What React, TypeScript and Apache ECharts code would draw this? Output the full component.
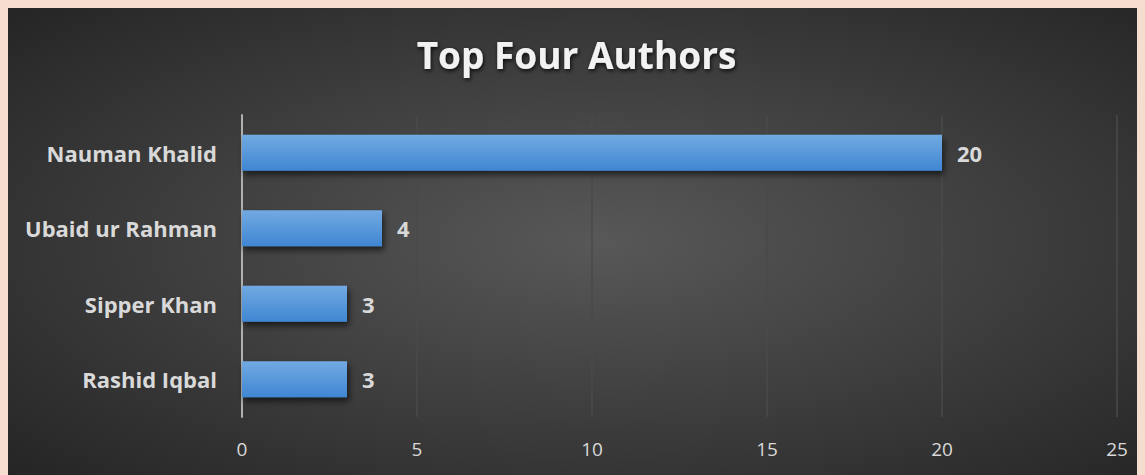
import React, { useEffect, useRef } from "react";
import * as echarts from "echarts";

const categories = ["Rashid Iqbal", "Sipper Khan", "Ubaid ur Rahman", "Nauman Khalid"];
const values = [3, 3, 4, 20];
const xTicks = [0, 5, 10, 15, 20, 25];
const titleText = "Top Four Authors";

export default function App() {
  const ref = useRef<HTMLDivElement>(null);
  useEffect(() => {
    document.body.style.background = "#f5ddd0";
    const chart = echarts.init(ref.current!, null, { renderer: "svg" });
    chart.setOption({
      animation: false,
      backgroundColor: {
        type: "radial",
        x: 0.52,
        y: 0.5,
        r: 0.72,
        colorStops: [
          { offset: 0, color: "#585858" },
          { offset: 1, color: "#252525" },
        ],
      },
      title: {
        text: titleText,
        left: "center",
        top: 23,
        textStyle: {
          color: "#f2f2f2",
          fontSize: 37,
          fontWeight: "bold",
          fontFamily: "Open Sans",
          textShadowColor: "rgba(0,0,0,0.8)",
          textShadowBlur: 4,
          textShadowOffsetX: 1,
          textShadowOffsetY: 2,
        },
      },
      grid: { left: 234, right: 28, top: 107, bottom: 58, containLabel: false },
      xAxis: {
        type: "value",
        min: 0,
        max: 25,
        interval: 5,
        axisLine: { show: false },
        axisTick: { show: false },
        splitLine: { lineStyle: { color: "#4a4a4a", width: 1.5 } },
        axisLabel: {
          color: "#d9d9d9",
          fontSize: 19,
          fontFamily: "Open Sans",
          margin: 22,
          formatter: (v: number) => (xTicks.includes(v) ? String(v) : ""),
        },
      },
      yAxis: {
        type: "category",
        data: categories,
        axisLine: { show: true, lineStyle: { color: "#b0b0b0", width: 2 } },
        axisTick: { show: false },
        axisLabel: {
          color: "#d9d9d9",
          fontSize: 22,
          fontWeight: "bold",
          fontFamily: "Open Sans",
          margin: 25,
        },
      },
      series: [
        {
          type: "bar",
          data: values,
          barWidth: "48%",
          itemStyle: {
            color: {
              type: "linear",
              x: 0,
              y: 0,
              x2: 0,
              y2: 1,
              colorStops: [
                { offset: 0, color: "#72aae2" },
                { offset: 1, color: "#3f86d2" },
              ],
            },
            shadowColor: "rgba(0,0,0,0.6)",
            shadowBlur: 6,
            shadowOffsetX: 2,
            shadowOffsetY: 4,
          },
          label: {
            show: true,
            position: "right",
            distance: 15,
            color: "#d9d9d9",
            fontSize: 22,
            fontWeight: "bold",
            fontFamily: "Open Sans",
          },
        },
      ],
    });
    return () => chart.dispose();
  }, []);
  return <div ref={ref} style={{ width: 1137, height: 467 }} />;
}
